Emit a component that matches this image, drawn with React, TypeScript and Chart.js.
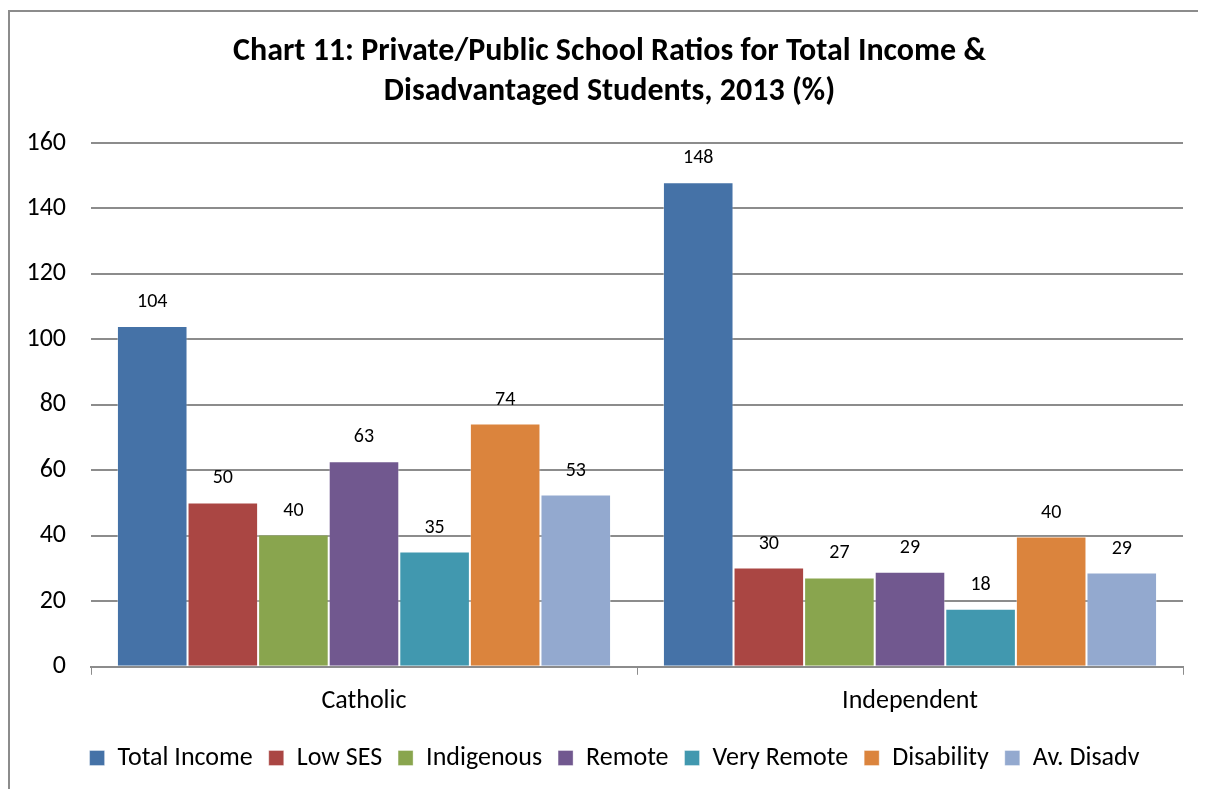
import React, { useEffect, useRef } from "react";
import { Chart, registerables } from "chart.js";

Chart.register(...registerables);

const categories = ["Catholic", "Independent"];
const seriesNames = ["Total Income", "Low SES", "Indigenous", "Remote", "Very Remote", "Disability", "Av. Disadv"];
const totalIncome = [104.1, 148.0];
const lowSES = [50.2, 30.3];
const indigenous = [40.4, 27.3];
const remote = [62.8, 29.0];
const veryRemote = [35.2, 17.7];
const disability = [74.3, 39.8];
const avDisadv = [52.6, 28.8];
const colors = ["#4572A7", "#AA4643", "#89A54E", "#71588F", "#4198AF", "#DB843D", "#93A9CF"];
const yTicks = [0, 20, 40, 60, 80, 100, 120, 140, 160];
const titleLines = ["Chart 11: Private/Public School Ratios for Total Income &", "Disadvantaged Students, 2013 (%)"];

const FONT = "Carlito, Lato, 'Open Sans', sans-serif";

const valueLabels = {
  id: "valueLabels",
  afterDatasetsDraw(chart: any) {
    const ctx = chart.ctx;
    ctx.save();
    ctx.font = `20px ${FONT}`;
    ctx.fillStyle = "#000";
    ctx.textAlign = "center";
    ctx.textBaseline = "middle";
    chart.data.datasets.forEach((ds: any, i: number) => {
      const meta = chart.getDatasetMeta(i);
      meta.data.forEach((bar: any, j: number) => {
        ctx.fillText(String(Math.round(ds.data[j])), bar.x, bar.y - 24);
      });
    });
    ctx.restore();
  },
};

const shiftBoxes = {
  id: "shiftBoxes",
  afterLayout(chart: any) {
    if (chart.legend) { chart.legend.left += 18; chart.legend.right += 18; }
    if (chart.titleBlock) { chart.titleBlock.left += 13; chart.titleBlock.right += 13; }
  },
};

export default function App() {
  const ref = useRef<HTMLCanvasElement>(null);
  useEffect(() => {
    const all = [totalIncome, lowSES, indigenous, remote, veryRemote, disability, avDisadv];
    const chart = new Chart(ref.current!, {
      type: "bar",
      data: {
        labels: categories,
        datasets: all.map((d, i) => ({
          label: seriesNames[i],
          data: d,
          backgroundColor: colors[i],
          borderColor: "rgba(255,255,255,0.35)",
          borderWidth: 1,
          barPercentage: 1,
          categoryPercentage: 0.905,
        })),
      },
      options: {
        animation: false,
        responsive: false,
        layout: { padding: { left: 0, right: 23, top: 0, bottom: 8 } },
        plugins: {
          tooltip: { enabled: false },
          title: {
            display: true,
            text: titleLines,
            color: "#000",
            font: { family: FONT, size: 32, weight: "bold", lineHeight: 1.25 },
            padding: { top: 20, bottom: 31 },
          },
          legend: {
            position: "bottom",
            labels: {
              color: "#000",
              font: { family: FONT, size: 26 },
              boxWidth: 15,
              boxHeight: 15,
              padding: 16,
            },
          },
        },
        scales: {
          x: {
            grid: { drawOnChartArea: false, drawTicks: true, tickLength: 8, offset: true, color: "#8c8c8c" },
            border: { display: true, color: "#8c8c8c", width: 2 },
            ticks: { color: "#000", font: { family: FONT, size: 26 }, padding: 11.5 },
          },
          y: {
            min: 0,
            max: 160,
            afterBuildTicks: (s: any) => { s.ticks = yTicks.map((v) => ({ value: v })); },
            afterFit: (s: any) => { s.width = 81; },
            grid: { drawTicks: false, color: "#8c8c8c", lineWidth: 2 },
            border: { display: false },
            ticks: { color: "#000", font: { family: FONT, size: 26 }, padding: 25 },
          },
        },
      },
      plugins: [valueLabels, shiftBoxes],
    });
    return () => chart.destroy();
  }, []);
  return (
    <div style={{ marginTop: 2, width: 1198, height: 779, borderLeft: "2px solid #8c8c8c", borderTop: "2px solid #8c8c8c", boxSizing: "border-box", overflow: "hidden", background: "#fff" }}>
      <canvas ref={ref} width={1196} height={777} style={{ display: "block" }} />
    </div>
  );
}
